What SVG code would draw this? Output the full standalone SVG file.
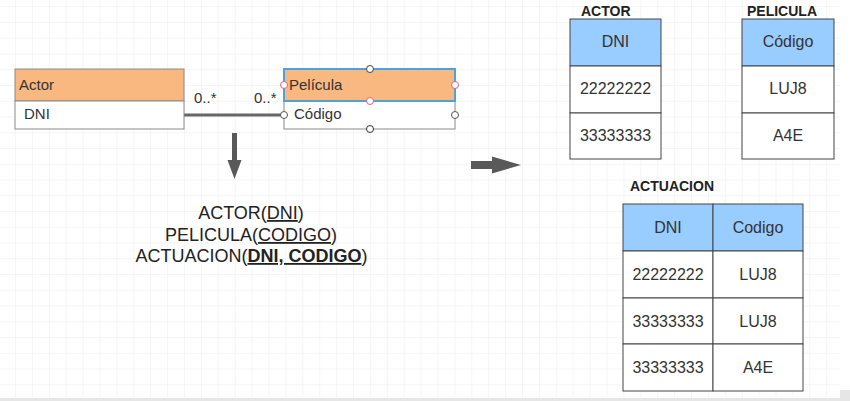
<svg xmlns="http://www.w3.org/2000/svg" width="850" height="401" viewBox="0 0 850 401">
<defs>
<pattern id="grid" patternUnits="userSpaceOnUse" x="15" y="6.25" width="16.9" height="15.75">
<path d="M0 0 V15.75 M0 0 H16.9" fill="none" stroke="#ececec" stroke-width="1"/>
</pattern>
<style>
text{font-family:"Liberation Sans",Arial,sans-serif;fill:#333}
.lbl{font-size:15px}
.cell{font-size:16px;text-anchor:middle}
.title{font-size:14px;font-weight:bold;fill:#222}
.hdr{fill:#F8B880;stroke:#8a8a8a;stroke-width:1}
.row{fill:#fff;stroke:#8a8a8a;stroke-width:1}
.th{fill:#99CCFF;stroke:#444;stroke-width:1}
.td{fill:#fff;stroke:#444;stroke-width:1}
.hnd{fill:#fff;stroke:#555;stroke-width:1}
.hndr{fill:#fff;stroke:#e0607e;stroke-width:1}
.arrow{fill:#595959}
.schema{font-size:18px;text-anchor:middle;fill:#222}
</style>
</defs>
<rect width="850" height="401" fill="#fff"/>
<rect x="0" y="0" width="840" height="398" fill="url(#grid)"/>
<rect x="0" y="398" width="850" height="3" fill="#e6e6e6"/>
<rect x="840" y="390" width="10" height="11" fill="#e6e6e6"/>

<g id="connectors">
<line x1="184" y1="115" x2="284" y2="115" stroke="#666" stroke-width="3"/>
<text class="lbl" x="194" y="103">0..*</text>
<text class="lbl" x="254" y="103">0..*</text>
<polygon class="arrow" points="232,133 237,133 237,160 241.5,160 234.5,179 227.5,160 232,160"/>
<polygon class="arrow" points="471,161 492,161 492,156.5 521,165 492,173.5 492,169 471,169"/>
</g>

<g id="actor-entity">
<rect class="hdr" x="15" y="69" width="169" height="32"/>
<rect class="row" x="15" y="101" width="169" height="28"/>
<text class="lbl" x="19" y="90">Actor</text>
<text class="lbl" x="24" y="119">DNI</text>
</g>

<g id="pelicula-entity">
<rect class="row" x="284" y="101" width="171" height="28"/>
<rect x="284" y="69" width="171" height="32" fill="#F8B880" stroke="#4aa3df" stroke-width="2"/>
<text class="lbl" x="289" y="90">Película</text>
<text class="lbl" x="294" y="119">Código</text>
<circle class="hndr" cx="370" cy="69" r="3.5" style="stroke:#444"/>
<circle class="hndr" cx="284" cy="85" r="3.5"/>
<circle class="hndr" cx="455" cy="85" r="3.5"/>
<circle class="hndr" cx="370" cy="101" r="3.5"/>
<circle class="hnd" cx="284" cy="115" r="3.5"/>
<circle class="hnd" cx="455" cy="115" r="3.5"/>
<circle class="hnd" cx="370" cy="129" r="3.5" style="stroke:#333"/>
</g>

<g id="schema">
<text class="schema" x="251" y="219">ACTOR(<tspan text-decoration="underline">DNI</tspan>)</text>
<text class="schema" x="251" y="241">PELICULA(<tspan text-decoration="underline">CODIGO</tspan>)</text>
<text class="schema" x="251.5" y="262">ACTUACION(<tspan font-weight="bold" text-decoration="underline">DNI, CODIGO</tspan>)</text>
</g>

<g id="table-actor">
<text class="title" x="581" y="16">ACTOR</text>
<rect class="th" x="570" y="19" width="91" height="47"/>
<rect class="td" x="570" y="66" width="91" height="47"/>
<rect class="td" x="570" y="113" width="91" height="46"/>
<text class="cell" x="615.5" y="47">DNI</text>
<text class="cell" x="615.5" y="94">22222222</text>
<text class="cell" x="615.5" y="141">33333333</text>
</g>

<g id="table-pelicula">
<text class="title" x="747" y="16">PELICULA</text>
<rect class="th" x="742" y="19" width="92" height="47"/>
<rect class="td" x="742" y="66" width="92" height="47"/>
<rect class="td" x="742" y="113" width="92" height="46"/>
<text class="cell" x="788" y="47">Código</text>
<text class="cell" x="788" y="94">LUJ8</text>
<text class="cell" x="788" y="141">A4E</text>
</g>

<g id="table-actuacion">
<text class="title" x="630" y="191">ACTUACION</text>
<rect class="th" x="623" y="204" width="90" height="47"/>
<rect class="th" x="713" y="204" width="90" height="47"/>
<rect class="td" x="623" y="251" width="90" height="47"/>
<rect class="td" x="713" y="251" width="90" height="47"/>
<rect class="td" x="623" y="298" width="90" height="46"/>
<rect class="td" x="713" y="298" width="90" height="46"/>
<rect class="td" x="623" y="344" width="90" height="47"/>
<rect class="td" x="713" y="344" width="90" height="47"/>
<text class="cell" x="668" y="233">DNI</text>
<text class="cell" x="758" y="233">Codigo</text>
<text class="cell" x="668" y="280">22222222</text>
<text class="cell" x="758" y="280">LUJ8</text>
<text class="cell" x="668" y="327">33333333</text>
<text class="cell" x="758" y="327">LUJ8</text>
<text class="cell" x="668" y="373">33333333</text>
<text class="cell" x="758" y="373">A4E</text>
</g>
</svg>
